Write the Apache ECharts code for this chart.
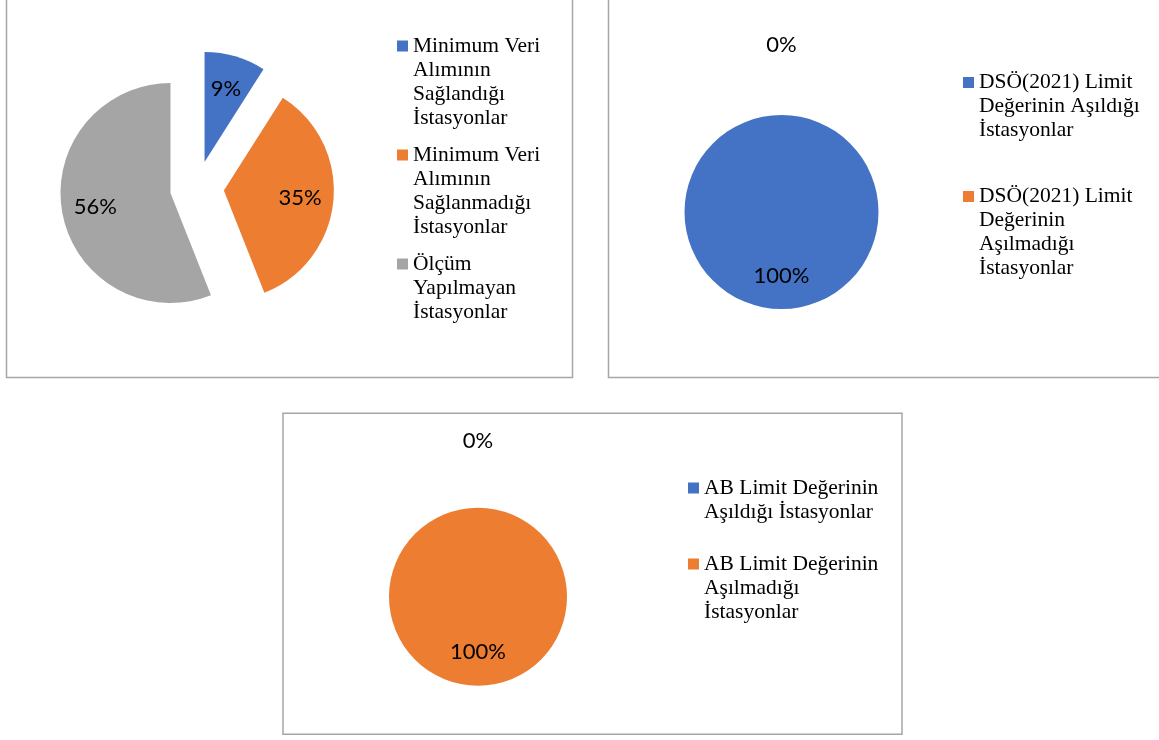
<!DOCTYPE html>
<html><head><meta charset="utf-8">
<script src="https://cdn.jsdelivr.net/npm/echarts@6/dist/echarts.min.js"></script>
<style>html,body{margin:0;padding:0;background:#fff}#c{width:1159px;height:740px}</style>
</head><body><div id="c"></div>
<script>
// ---- data ----
const colors = ['#4472C4', '#ED7D31', '#A5A5A5'];

const pie1Names = ['Minimum Veri Alımının Sağlandığı İstasyonlar', 'Minimum Veri Alımının Sağlanmadığı İstasyonlar', 'Ölçüm Yapılmayan İstasyonlar'];
const pie1Legend = ['Minimum Veri\nAlımının\nSağlandığı\nİstasyonlar', 'Minimum Veri\nAlımının\nSağlanmadığı\nİstasyonlar', 'Ölçüm\nYapılmayan\nİstasyonlar'];
const pie1Values = [9, 35, 56];

const pie2Names = ['DSÖ(2021) Limit Değerinin Aşıldığı İstasyonlar', 'DSÖ(2021) Limit Değerinin Aşılmadığı İstasyonlar'];
const pie2Legend = ['DSÖ(2021) Limit\nDeğerinin Aşıldığı\nİstasyonlar', 'DSÖ(2021) Limit\nDeğerinin\nAşılmadığı\nİstasyonlar'];
const pie2Values = [100, 0];

const pie3Names = ['AB Limit Değerinin Aşıldığı İstasyonlar', 'AB Limit Değerinin Aşılmadığı İstasyonlar'];
const pie3Legend = ['AB Limit Değerinin\nAşıldığı İstasyonlar', 'AB Limit Değerinin\nAşılmadığı\nİstasyonlar'];
const pie3Values = [0, 100];

// ---- chart ----
const LINE_H = 24;
const ICON = 11;
const labelFont = { fontFamily: 'Lato', fontSize: 22, color: '#000', textBorderWidth: 0 };

function visualPie(names, values, center, r, offset) {
  return {
    type: 'pie', center: center, radius: r, startAngle: 90, clockwise: true,
    animation: false, silent: true, avoidLabelOverlap: false,
    selectedMode: offset ? 'multiple' : false, selectedOffset: offset || 0,
    label: { show: false }, labelLine: { show: false },
    emphasis: { disabled: true }, select: { itemStyle: { borderWidth: 0 } },
    data: names.map((n, i) => ({ name: n, value: values[i], selected: !!offset, itemStyle: { color: colors[i], borderWidth: 0 } }))
  };
}

function labelPie(names, values, center, r0, r, offset, outsideLen) {
  return {
    type: 'pie', center: center, radius: [r0, r], startAngle: 90, clockwise: true,
    animation: false, silent: true, avoidLabelOverlap: false,
    selectedMode: offset ? 'multiple' : false, selectedOffset: offset || 0,
    itemStyle: { color: 'rgba(0,0,0,0)', borderWidth: 0 },
    emphasis: { disabled: true }, select: { itemStyle: { borderWidth: 0, color: 'rgba(0,0,0,0)' } },
    label: Object.assign({ show: true, position: 'inside', formatter: '{c}%', distanceToLabelLine: 0 }, labelFont),
    labelLine: { show: false },
    labelLayout: { align: 'center' },
    data: names.map((n, i) => {
      const d = { name: n, value: values[i], selected: !!offset };
      if (values[i] === 0) {
        d.label = { position: 'outside' };
        d.labelLine = { show: false, length: outsideLen, length2: 0 };
      }
      return d;
    })
  };
}

// one legend component per entry so the square sits on the first text line
function legends(names, texts, left, top, gap) {
  const out = [];
  let y = top;
  names.forEach((n, i) => {
    const lines = texts[i].split('\n').length;
    const h = lines * LINE_H;
    const c = LINE_H / 2 - ICON / 2;
    out.push({
      orient: 'vertical', left: left, top: y, padding: 0,
      itemWidth: ICON, itemHeight: h, selectedMode: false,
      itemStyle: { borderWidth: 0 },
      formatter: () => texts[i],
      textStyle: { fontFamily: 'Liberation Serif', fontSize: 21.5, lineHeight: LINE_H, color: '#000' },
      data: [{ name: n, icon: 'path://M0,0L0,0M0,' + c + 'L' + ICON + ',' + c + 'L' + ICON + ',' + (c + ICON) + 'L0,' + (c + ICON) + 'ZM0,' + h + 'L0,' + h }]
    });
    y += h + gap;
  });
  return out;
}

const chart = echarts.init(document.getElementById('c'), null, { renderer: 'canvas' });
const border = { fill: 'none', stroke: '#A6A6A6', lineWidth: 1.5 };
chart.setOption({
  backgroundColor: '#fff',
  animation: false,
  graphic: [
    { type: 'rect', shape: { x: 6.5, y: -10, width: 566, height: 387.5 }, style: border, silent: true },
    { type: 'rect', shape: { x: 608.5, y: -10, width: 600, height: 387.5 }, style: border, silent: true },
    { type: 'rect', shape: { x: 283, y: 413.3, width: 619, height: 321 }, style: border, silent: true }
  ],
  legend: [].concat(
    legends(pie1Names, pie1Legend, 397, 34, 13),
    legends(pie2Names, pie2Legend, 963, 70.5, 42),
    legends(pie3Names, pie3Legend, 688, 476, 28)
  ),
  series: [
    visualPie(pie1Names, pie1Values, [197, 188], 110, 27),
    visualPie(pie2Names, pie2Values, [781.5, 212], 97, 0),
    visualPie(pie3Names, pie3Values, [478, 596.7], 89, 0),
    labelPie(pie1Names, pie1Values, [197, 188], 37, 110, 27, 0),
    labelPie(pie2Names, pie2Values, [781.5, 212], 25, 97, 0, 70),
    labelPie(pie3Names, pie3Values, [478, 596.7], 15, 89, 0, 67)
  ]
});
</script></body></html>
